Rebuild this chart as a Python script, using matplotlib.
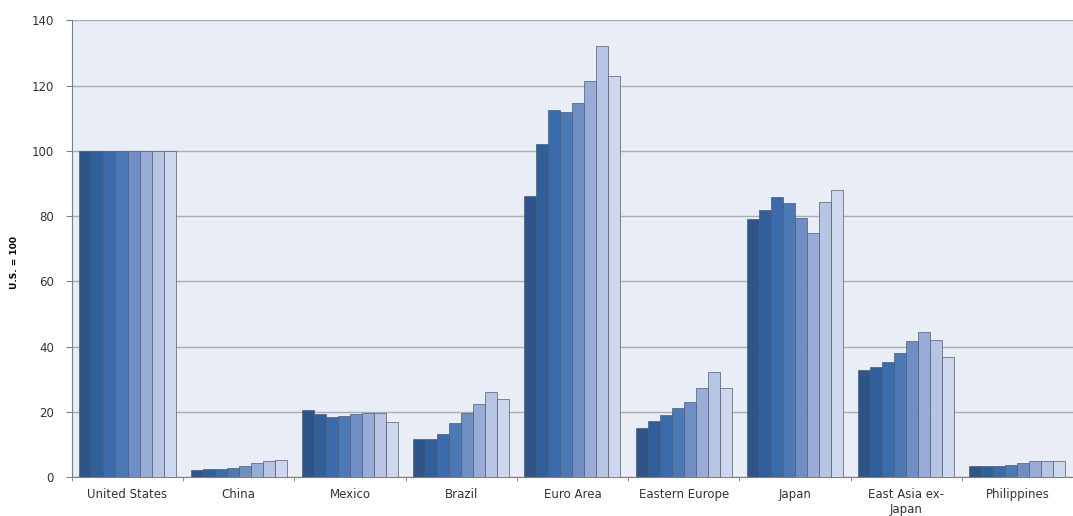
import numpy as np
import matplotlib.pyplot as plt
from matplotlib.ticker import FixedLocator

# ---------------- DATA ----------------
categories = ["United States", "China", "Mexico", "Brazil", "Euro Area",
              "Eastern Europe", "Japan", "East Asia ex-\nJapan", "Philippines"]

# one row per series (8 bars per category, dark -> light)
series = [
    [100, 2.2, 20.5, 11.6,  86.0, 15.0, 79.0, 32.8, 3.5],
    [100, 2.4, 19.2, 11.6, 102.0, 17.2, 82.0, 33.8, 3.3],
    [100, 2.6, 18.3, 13.2, 112.4, 19.0, 85.8, 35.3, 3.5],
    [100, 2.9, 18.8, 16.5, 111.8, 21.0, 84.0, 38.0, 3.8],
    [100, 3.4, 19.4, 19.6, 114.6, 23.0, 79.4, 41.7, 4.3],
    [100, 4.2, 19.6, 22.3, 121.3, 27.2, 74.8, 44.4, 4.8],
    [100, 5.0, 19.6, 26.0, 132.0, 32.2, 84.3, 42.0, 5.0],
    [100, 5.3, 17.0, 24.0, 123.0, 27.2, 88.0, 36.7, 4.8],
]

colors = ["#2C5589", "#30609B", "#3A6CAD", "#4A79B6",
          "#6E8EC5", "#97ACD6", "#B6C5E3", "#CDD8EE"]

# ---------------- PLOT ----------------
fig = plt.figure(figsize=(10.73, 5.16), dpi=100)
ax = fig.add_axes([0.067, 0.0756, 0.933, 0.885])
ax.set_facecolor("#E9EDF5")

x = np.arange(len(categories))
n = len(series)
bw = 0.864 / n
for i, vals in enumerate(series):
    ax.bar(x - 0.432 + bw * (i + 0.5), vals, width=bw, color=colors[i],
           edgecolor="#555A66", linewidth=0.5, zorder=3)

ax.set_ylim(0, 140)
ax.set_xlim(-0.5, len(categories) - 0.5)
ax.set_yticks(np.arange(0, 141, 20))
ax.yaxis.grid(True, color="#A8ACB3", linewidth=1.0, zorder=0)

ax.set_xticks(x)
ax.set_xticklabels(categories, fontsize=8.5, color="#333333")
ax.tick_params(axis="x", length=0, pad=8)
ax.xaxis.set_minor_locator(FixedLocator(np.arange(-0.5, len(categories), 1.0)))
ax.tick_params(axis="x", which="minor", length=3, color="#7A7F8A", direction="out")
ax.tick_params(axis="y", labelsize=8.5, labelcolor="#333333", length=4,
               color="#7A7F8A", pad=9)

ax.set_ylabel("U.S. = 100", fontsize=6.5, fontweight="bold", labelpad=16)
ax.yaxis.set_label_coords(-0.053, 0.47)

for s in ["top", "right"]:
    ax.spines[s].set_visible(False)
ax.spines["left"].set_color("#7A7F8A")
ax.spines["bottom"].set_color("#7A7F8A")

fig.savefig("out.png", dpi=100)
